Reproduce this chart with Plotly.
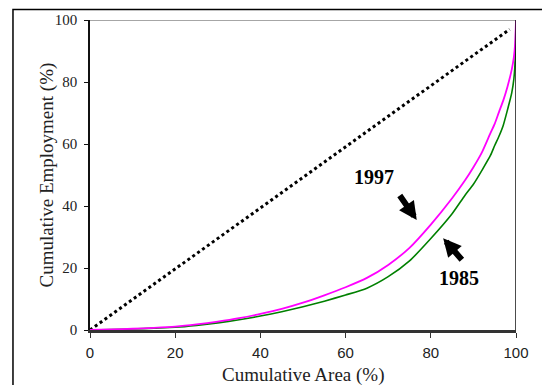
import plotly.graph_objects as go

area_x = [0, 5, 10, 15, 20, 25, 30, 35, 40, 45, 50, 55, 60, 65, 70, 75, 80, 85, 88, 90, 92, 94, 95, 96, 97, 98, 99, 99.5, 99.8, 100]
emp_1997 = [0, 0.2, 0.4, 0.7, 1.1, 1.8, 2.7, 3.8, 5.2, 6.8, 8.8, 11.2, 13.8, 16.8, 21.0, 26.5, 34.0, 42.5, 48.2, 52.5, 57.3, 63.5, 66.5, 70.3, 74.0, 78.5, 84.0, 88.0, 92.5, 100]
emp_1985 = [0, 0.15, 0.3, 0.6, 0.9, 1.5, 2.3, 3.3, 4.5, 5.9, 7.5, 9.3, 11.3, 13.5, 17.2, 22.3, 29.5, 37.5, 43.4, 47.0, 51.5, 56.3, 59.5, 62.5, 66.0, 71.0, 76.5, 81.0, 87.0, 100]
equal_x = [0, 98.5]
equal_y = [0, 97]
tick_vals = [0, 20, 40, 60, 80, 100]

serif = "Liberation Serif, Times New Roman, serif"
sans = "Liberation Sans, Arial, sans-serif"

fig = go.Figure()
fig.add_trace(go.Scatter(x=equal_x, y=equal_y, mode="lines",
                         line=dict(color="black", width=3, dash="dot"), showlegend=False))
fig.add_trace(go.Scatter(x=area_x, y=emp_1985, mode="lines",
                         line=dict(color="#008000", width=1.6, shape="spline", smoothing=0.6), showlegend=False))
fig.add_trace(go.Scatter(x=area_x, y=emp_1997, mode="lines",
                         line=dict(color="#ff00ff", width=1.8, shape="spline", smoothing=0.6), showlegend=False))

fig.update_layout(
    width=542, height=377,
    margin=dict(l=82, r=34, t=12, b=55, autoexpand=False),
    paper_bgcolor="white", plot_bgcolor="white",
    xaxis=dict(range=[0, 100], tickvals=tick_vals, showgrid=False, zeroline=False, automargin=False,
               showline=True, linecolor="#333", linewidth=2.5, ticks="outside", ticklen=5,
               tickcolor="#333", tickfont=dict(family=sans, size=15, color="#222"),
               ticklabelstandoff=2),
    yaxis=dict(range=[0, 100], tickvals=tick_vals, showgrid=False, zeroline=False, automargin=False,
               showline=True, linecolor="#111", linewidth=1.5, ticks="outside", ticklen=4,
               tickcolor="#111", tickfont=dict(family=serif, size=15, color="#222"),
               ticklabelstandoff=4),
    shapes=[
        dict(type="line", xref="x", yref="y", x0=0, x1=100, y0=100, y1=100, line=dict(color="#888", width=1.5)),
        dict(type="line", xref="x", yref="y", x0=100, x1=100, y0=0, y1=100, line=dict(color="#111", width=1.5)),
        dict(type="rect", xref="paper", yref="paper", x0=-0.1808, x1=1.0728, y0=-0.25, y1=1.0339,
             line=dict(color="black", width=1.5)),
    ],
    annotations=[
        dict(x=-0.0998, y=0.5, xref="paper", yref="paper", text="Cumulative Employment (%)",
             textangle=-90, showarrow=False, font=dict(family=serif, size=19, color="#222"),
             xanchor="center", yanchor="middle"),
        dict(x=0.5, y=-0.145, xref="paper", yref="paper", text="Cumulative Area (%)",
             showarrow=False, font=dict(family=serif, size=19, color="#222"),
             xanchor="center", yanchor="middle"),
        dict(x=66.7, y=49.3, xref="x", yref="y", text="<b>1997</b>", showarrow=False,
             font=dict(family=serif, size=20, color="black"), xanchor="center", yanchor="middle"),
        dict(x=86.7, y=16.9, xref="x", yref="y", text="<b>1985</b>", showarrow=False,
             font=dict(family=serif, size=20, color="black"), xanchor="center", yanchor="middle"),
        dict(x=76.7, y=35.5, xref="x", yref="y", text="", showarrow=True, arrowhead=2,
             arrowsize=0.6, arrowwidth=6, arrowcolor="black", ax=-18, ay=-26),
        dict(x=82.9, y=29.6, xref="x", yref="y", text="", showarrow=True, arrowhead=2,
             arrowsize=0.6, arrowwidth=6, arrowcolor="black", ax=20, ay=23),
    ],
)

fig.write_html("out.html")
